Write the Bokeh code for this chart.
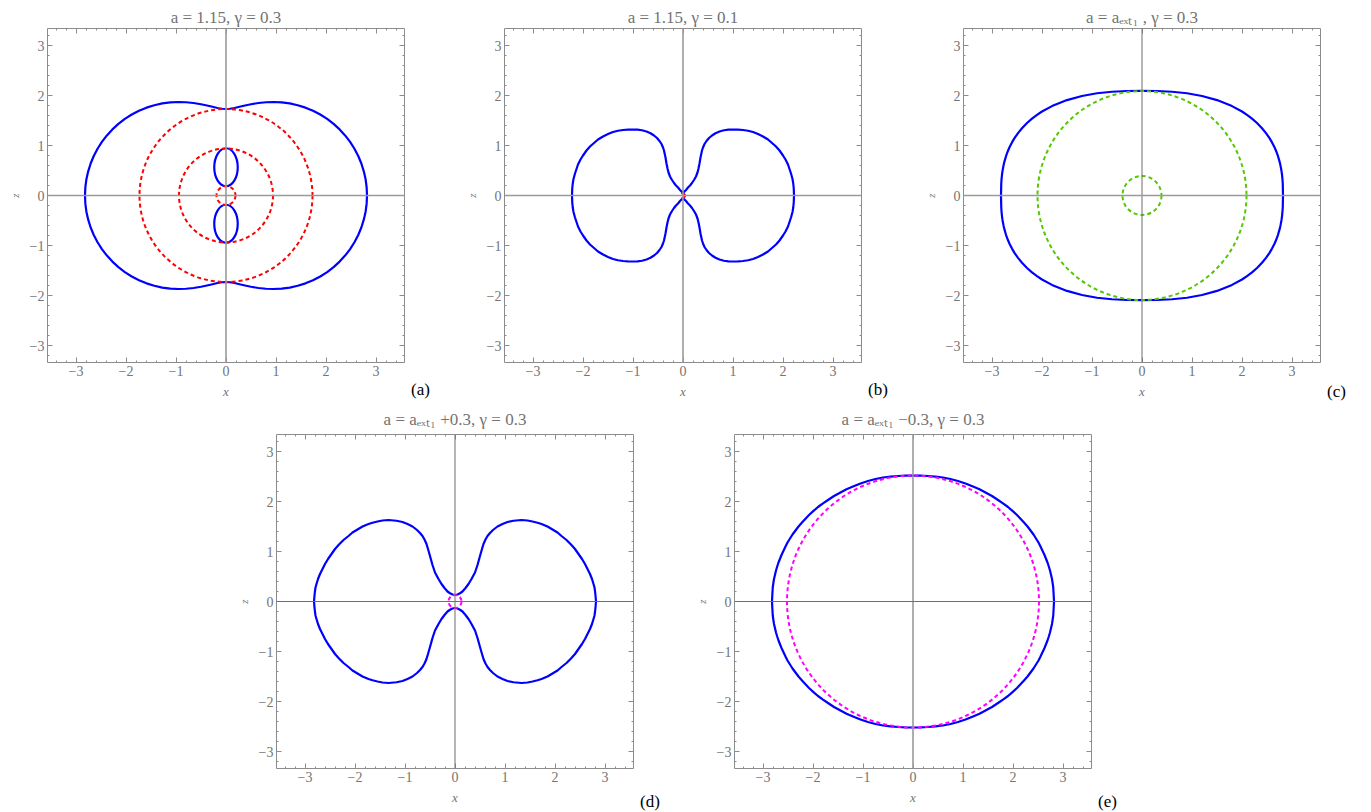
import numpy as np
from bokeh.plotting import figure
from bokeh.models import (FixedTicker, Span, Spacer, CustomJSTickFormatter,
                          LinearAxis, Range1d, Div)
from bokeh.layouts import row, column
from bokeh.embed import file_html
from bokeh.resources import INLINE

# ---------------- data ----------------
tick_values = [-3, -2, -1, 0, 1, 2, 3]
tick_labels = ["\u22123", "\u22122", "\u22121", "0", "1", "2", "3"]
x_limits = (-3.57, 3.57)
z_limits = (-3.34, 3.34)

titles = [
    "a = 1.15, \u03b3 = 0.3",
    "a = 1.15, \u03b3 = 0.1",
    "a = a\u2091\u2093\u209c\u2081 , \u03b3 = 0.3",
    "a = a\u2091\u2093\u209c\u2081 +0.3, \u03b3 = 0.3",
    "a = a\u2091\u2093\u209c\u2081 \u22120.3, \u03b3 = 0.3",
]
panel_tags = ["(a)", "(b)", "(c)", "(d)", "(e)"]

# first-quadrant points of each solid blue contour (mirrored to the other quadrants)
a_outer_x = [0.00, 0.08, 0.17, 0.27, 0.38, 0.50, 0.65, 0.80, 0.95, 1.113, 1.275, 1.434, 1.590, 1.740,
             1.885, 2.023, 2.152, 2.272, 2.382, 2.482, 2.569, 2.645, 2.707, 2.756, 2.792, 2.813, 2.82]
a_outer_z = [1.73, 1.735, 1.75, 1.775, 1.80, 1.825, 1.85, 1.865, 1.87, 1.863, 1.842, 1.806, 1.757, 1.695,
             1.619, 1.532, 1.432, 1.322, 1.202, 1.073, 0.935, 0.790, 0.640, 0.484, 0.325, 0.163, 0.00]

b_outer_x = [0.00, 0.03, 0.06, 0.10, 0.14, 0.18, 0.22, 0.26, 0.29, 0.31, 0.33, 0.35, 0.365, 0.38, 0.40,
             0.43, 0.47, 0.52, 0.58, 0.65, 0.73, 0.82, 0.91, 1.00, 1.10, 1.20, 1.30, 1.40, 1.50, 1.60,
             1.70, 1.78, 1.86, 1.93, 2.00, 2.05, 2.10, 2.13, 2.16, 2.19, 2.205, 2.215, 2.22]
b_outer_z = [0.06, 0.08, 0.11, 0.16, 0.20, 0.25, 0.31, 0.38, 0.46, 0.54, 0.64, 0.76, 0.83, 0.90, 0.96,
             1.03, 1.09, 1.15, 1.20, 1.245, 1.28, 1.305, 1.317, 1.32, 1.318, 1.31, 1.295, 1.27, 1.23, 1.18,
             1.12, 1.05, 0.98, 0.90, 0.80, 0.72, 0.62, 0.53, 0.44, 0.33, 0.24, 0.14, 0.00]

c_outer_x = [0.00, 0.30, 0.60, 0.90, 1.20, 1.50, 1.80, 2.00, 2.10, 2.20, 2.30, 2.40, 2.48, 2.55,
             2.60, 2.65, 2.69, 2.72, 2.75, 2.77, 2.79, 2.80, 2.81, 2.815, 2.82]
c_outer_z = [2.093, 2.09, 2.075, 2.045, 1.99, 1.908, 1.788, 1.68, 1.613, 1.538, 1.45, 1.346, 1.248, 1.148,
             1.062, 0.964, 0.87, 0.786, 0.683, 0.598, 0.489, 0.416, 0.316, 0.239, 0.00]

d_outer_x = [0.00, 0.05, 0.10, 0.15, 0.21, 0.27, 0.33, 0.40, 0.45, 0.50, 0.54, 0.57, 0.61, 0.65, 0.70,
             0.76, 0.85, 0.95, 1.05, 1.17, 1.33, 1.45, 1.55, 1.65, 1.73, 1.85, 1.95, 2.05, 2.13, 2.23,
             2.32, 2.40, 2.47, 2.54, 2.60, 2.65, 2.70, 2.74, 2.77, 2.79, 2.80, 2.81, 2.82]
d_outer_z = [0.13, 0.14, 0.165, 0.20, 0.27, 0.35, 0.45, 0.58, 0.73, 0.91, 1.05, 1.15, 1.24, 1.31, 1.37,
             1.43, 1.50, 1.55, 1.59, 1.615, 1.63, 1.62, 1.60, 1.575, 1.55, 1.50, 1.44, 1.38, 1.31, 1.23,
             1.14, 1.05, 0.95, 0.85, 0.75, 0.65, 0.55, 0.45, 0.35, 0.28, 0.21, 0.12, 0.00]

e_outer_x = [0.00, 0.15, 0.30, 0.45, 0.60, 0.75, 0.90, 1.05, 1.20, 1.33, 1.45, 1.58, 1.70, 1.80, 1.90,
             1.99, 2.08, 2.15, 2.22, 2.29, 2.35, 2.41, 2.46, 2.51, 2.55, 2.59, 2.63, 2.66, 2.69,
             2.716, 2.74, 2.76, 2.78, 2.793, 2.805, 2.813, 2.82]
e_outer_z = [2.52, 2.517, 2.51, 2.497, 2.48, 2.45, 2.41, 2.36, 2.30, 2.245, 2.18, 2.11, 2.03, 1.962, 1.89,
             1.812, 1.73, 1.657, 1.58, 1.50, 1.42, 1.34, 1.26, 1.18, 1.10, 1.015, 0.93, 0.855, 0.78,
             0.70, 0.62, 0.535, 0.45, 0.365, 0.28, 0.14, 0.00]

# panel (a): two small closed blue loops on the z axis
a_loop_z = [0.565, -0.565]
a_loop_width = 0.47
a_loop_height = 0.76

# dashed circles (radii)
a_dashed_r = [1.73, 0.94, 0.19]
b_dashed_r = [0.04]
c_dashed_r = [2.09, 0.39]
d_dashed_r = [0.13]
e_dashed_r = [2.52]

# ---------------- styling ----------------
BLUE = "#0000ff"
RED = "#ff0000"
GREEN = "#55c800"
MAGENTA = "#ff00ff"
FRAME = "#8c8c8c"
TXT = "#737373"
SERIF = "Liberation Serif"
minor_ticks = [round(v, 1) for v in np.arange(-3.4, 3.41, 0.2) if abs(v - round(v)) > 1e-6]


def closed_curve(qx, qz):
    qx = np.asarray(qx, dtype=float)
    qz = np.asarray(qz, dtype=float)
    xs = np.concatenate([qx, qx[::-1], -qx, -qx[::-1]])
    zs = np.concatenate([qz, -qz[::-1], -qz, qz[::-1]])
    return xs, zs


def style_axis(ax, labels):
    ax.ticker = FixedTicker(ticks=tick_values, minor_ticks=minor_ticks)
    ax.major_tick_in = 5
    ax.major_tick_out = 0
    ax.minor_tick_in = 2
    ax.minor_tick_out = 0
    ax.axis_line_color = FRAME
    ax.major_tick_line_color = FRAME
    ax.minor_tick_line_color = FRAME
    ax.axis_line_width = 1
    if labels:
        ax.major_label_overrides = dict(zip(tick_values, tick_labels))
        ax.major_label_text_font = SERIF
        ax.major_label_text_font_size = "14px"
        ax.major_label_text_color = TXT
        ax.major_label_standoff = 3
        ax.axis_label_text_font = SERIF
        ax.axis_label_text_font_style = "italic"
        ax.axis_label_text_color = TXT
    else:
        ax.formatter = CustomJSTickFormatter(code="return ''")
        ax.major_label_text_font_size = "0px"
        ax.major_label_text_color = None
        ax.major_label_standoff = 0


def make_panel(idx, qx, qz, radii, dash_color, vline, hline, left_border, top_border,
               bottom_border, title_standoff, loops=False):
    p = figure(frame_width=357, frame_height=334,
               x_range=Range1d(*x_limits), y_range=Range1d(*z_limits),
               x_axis_type=None, y_axis_type=None,
               output_backend="svg", toolbar_location=None,
               min_border_left=left_border, min_border_right=2,
               min_border_top=top_border, min_border_bottom=bottom_border,
               title=titles[idx])
    p.title.text_font = SERIF
    p.title.text_font_size = "17px"
    p.title.text_font_style = "normal"
    p.title.text_color = TXT
    p.title.align = "center"
    p.title.standoff = title_standoff
    p.outline_line_color = None

    bottom = LinearAxis(axis_label="x")
    left = LinearAxis(axis_label="z")
    top = LinearAxis()
    right = LinearAxis()
    p.add_layout(bottom, "below")
    p.add_layout(left, "left")
    p.add_layout(top, "above")
    p.add_layout(right, "right")
    style_axis(bottom, True)
    style_axis(left, True)
    style_axis(top, False)
    style_axis(right, False)
    bottom.axis_label_text_font_size = "13px"
    bottom.axis_label_standoff = 5
    left.axis_label_text_font_size = "11px"
    left.axis_label_standoff = 6

    p.add_layout(Span(location=0, dimension="height", line_color=vline[0], line_width=vline[1]))
    p.add_layout(Span(location=0, dimension="width", line_color=hline[0], line_width=hline[1]))

    xs, zs = closed_curve(qx, qz)
    p.line(xs, zs, line_color=BLUE, line_width=2.2, line_join="round")
    if loops:
        p.ellipse(x=[0, 0], y=a_loop_z, width=a_loop_width, height=a_loop_height,
                  fill_color=None, line_color=BLUE, line_width=2.2)
    p.circle(x=[0] * len(radii), y=[0] * len(radii), radius=radii,
             fill_color=None, line_color=dash_color, line_width=2, line_dash="4 3")
    return p


def tag_column(idx, width, top_gap):
    div = Div(text=panel_tags[idx], width=width, height=18, margin=0,
              styles={"font-family": SERIF, "font-size": "17px", "color": "black",
                      "line-height": "18px", "padding-left": "5px"})
    return column(Spacer(width=width, height=top_gap), div, spacing=0)


light = ("#9a9a9a", 1.6)
dark = ("#6e6e6e", 1.0)

pa = make_panel(0, a_outer_x, a_outer_z, a_dashed_r, RED, light, light, 47, 28, 38, 4, loops=True)
pb = make_panel(1, b_outer_x, b_outer_z, b_dashed_r, RED, light, light, 43, 28, 38, 4)
pc = make_panel(2, c_outer_x, c_outer_z, c_dashed_r, GREEN, dark, light, 43, 28, 38, 4)
pd = make_panel(3, d_outer_x, d_outer_z, d_dashed_r, MAGENTA, dark, dark, 43, 32, 46, 12)
pe = make_panel(4, e_outer_x, e_outer_z, e_dashed_r, MAGENTA, light, dark, 43, 32, 46, 12)

top_row = row(pa, tag_column(0, 55, 381), pb, tag_column(1, 57, 381), pc,
              tag_column(2, 41, 383), spacing=0)
bottom_row = row(Spacer(width=233, height=412), pd, tag_column(3, 56, 392), pe,
                 tag_column(4, 40, 392), spacing=0)
layout = column(top_row, bottom_row, spacing=0)

open("out.html", "w").write(file_html(layout, INLINE))
